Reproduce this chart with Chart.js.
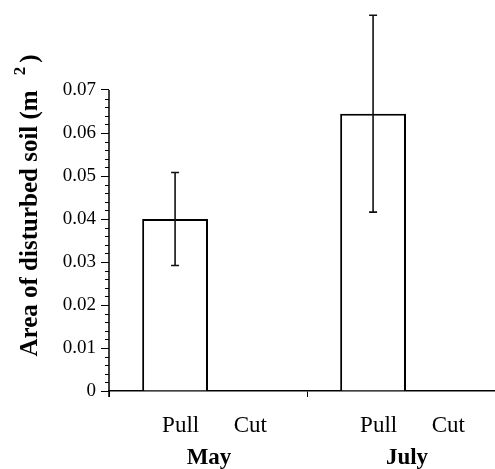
<!DOCTYPE html>
<html>
<head>
<meta charset="utf-8">
<script src="https://cdn.jsdelivr.net/npm/chart.js@4.4.1/dist/chart.umd.min.js"></script>
<style>
  html, body { margin: 0; padding: 0; background: #fff; overflow: hidden; }
  #wrap { width: 505px; height: 469px; position: relative; }
</style>
</head>
<body>
<div id="wrap"><canvas id="c"></canvas></div>
<script>
// ---- data ----
const months = ['May', 'July'];
const treatments = ['Pull', 'Cut'];
const pullMeans = [0.0400, 0.0645];
const pullErrors = [0.0108, 0.0229];
const cutMeans = [0, 0];
const cutErrors = [0, 0];
const yTickValues = [0, 0.01, 0.02, 0.03, 0.04, 0.05, 0.06, 0.07];
const yAxisTitle = 'Area of disturbed soil (m';
const yAxisTitleSup = '2';
const yAxisTitleEnd = ')';

const serif = "'Liberation Serif', 'Times New Roman', serif";

const errorBarPlugin = {
  id: 'errorBars',
  afterDatasetsDraw(chart) {
    const y = chart.scales.y;
    const ctx = chart.ctx;
    const sets = [[0, pullMeans, pullErrors], [1, cutMeans, cutErrors]];
    ctx.save();
    ctx.strokeStyle = '#111';
    ctx.lineWidth = 1.6;
    sets.forEach(([di, means, errs]) => {
      const meta = chart.getDatasetMeta(di);
      meta.data.forEach((el, i) => {
        if (!errs[i]) return;
        const yt = y.getPixelForValue(means[i] + errs[i]);
        const yb = y.getPixelForValue(means[i] - errs[i]);
        ctx.beginPath();
        ctx.moveTo(el.x, yt); ctx.lineTo(el.x, yb);
        ctx.moveTo(el.x - 4, yt); ctx.lineTo(el.x + 4, yt);
        ctx.moveTo(el.x - 4, yb); ctx.lineTo(el.x + 4, yb);
        ctx.stroke();
      });
    });
    ctx.restore();
  }
};

const axisPlugin = {
  id: 'axisDecor',
  afterDraw(chart) {
    const ctx = chart.ctx;
    const y = chart.scales.y;
    const area = chart.chartArea;
    const top = y.getPixelForValue(yTickValues[yTickValues.length - 1]);
    const bot = y.getPixelForValue(0);
    ctx.save();
    ctx.strokeStyle = '#000';
    ctx.lineWidth = 1.5;
    ctx.beginPath();
    ctx.moveTo(area.left, top);
    ctx.lineTo(area.left, bot + 6);
    ctx.stroke();
    // minor ticks
    ctx.lineWidth = 1;
    ctx.beginPath();
    const maxV = yTickValues[yTickValues.length - 1];
    for (let k = 1; k * 0.002 < maxV + 1e-9; k++) {
      if (k % 5 === 0) continue;
      const py = Math.round(y.getPixelForValue(k * 0.002)) + 0.5;
      ctx.moveTo(area.left - 4, py);
      ctx.lineTo(area.left, py);
    }
    ctx.stroke();

    // rotated y-axis title with superscript
    ctx.fillStyle = '#000';
    ctx.textBaseline = 'alphabetic';
    ctx.textAlign = 'left';
    const mainFont = "bold 25px " + serif;
    const supFont = "bold 17px " + serif;
    ctx.font = mainFont;
    const w1 = ctx.measureText(yAxisTitle).width;
    ctx.font = supFont;
    const w2 = ctx.measureText(yAxisTitleSup).width;
    ctx.font = mainFont;
    const w3 = ctx.measureText(yAxisTitleEnd).width;
    const gap1 = 15, gap2 = 4;
    const total = w1 + gap1 + w2 + gap2 + w3;
    const cy = (area.top + area.bottom) / 2 + 8;
    ctx.translate(37, cy);
    ctx.rotate(-Math.PI / 2);
    let x = -total / 2;
    ctx.font = mainFont;
    ctx.fillText(yAxisTitle, x, 0);
    x += w1 + gap1;
    ctx.font = supFont;
    ctx.fillText(yAxisTitleSup, x, -12);
    x += w2 + gap2;
    ctx.font = mainFont;
    ctx.fillText(yAxisTitleEnd, x, 0);
    ctx.restore();
  }
};

new Chart(document.getElementById('c'), {
  type: 'bar',
  data: {
    labels: months,
    datasets: [
      {
        label: treatments[0],
        data: pullMeans,
        backgroundColor: '#ffffff',
        borderColor: '#000000',
        borderWidth: 2,
        barPercentage: 1,
        categoryPercentage: 0.665
      },
      {
        label: treatments[1],
        data: cutMeans,
        backgroundColor: '#ffffff',
        borderColor: '#000000',
        borderWidth: 0,
        barPercentage: 1,
        categoryPercentage: 0.665
      }
    ]
  },
  options: {
    responsive: true,
    maintainAspectRatio: false,
    animation: false,
    layout: { padding: { top: 4, right: 0, bottom: 0, left: 0 } },
    plugins: { legend: { display: false }, tooltip: { enabled: false } },
    scales: {
      x: {
        type: 'category',
        position: 'bottom',
        offset: true,
        afterFit: (s) => { s.height = 46; s.paddingLeft = 0; s.paddingRight = 0; },
        grid: { display: true, drawOnChartArea: false, drawTicks: true, tickLength: 6, offset: true, color: '#000', lineWidth: 1 },
        border: { display: true, color: '#000', width: 1.5 },
        ticks: {
          color: '#000',
          font: { family: serif, size: 23 },
          padding: 15,
          labelOffset: 6.5,
          maxRotation: 0,
          autoSkip: false,
          callback: () => treatments[0] + '      ' + treatments[1]
        }
      },
      x2: {
        type: 'category',
        position: 'bottom',
        offset: true,
        afterFit: (s) => { s.height = 32; s.paddingLeft = 0; s.paddingRight = 0; },
        grid: { display: false, drawTicks: false },
        border: { display: false },
        ticks: {
          color: '#000',
          font: { family: serif, size: 23, weight: 'bold' },
          padding: 7,
          labelOffset: 1,
          maxRotation: 0,
          autoSkip: false
        }
      },
      y: {
        min: 0,
        max: 0.09,
        afterFit: (s) => { s.width = 109; s.paddingTop = 0; s.paddingBottom = 0; },
        afterBuildTicks: (s) => { s.ticks = yTickValues.map(v => ({ value: v })); },
        grid: { display: true, drawOnChartArea: false, drawTicks: true, tickLength: 8, color: '#000', lineWidth: 1 },
        border: { display: false },
        ticks: {
          color: '#000',
          font: { family: serif, size: 19 },
          padding: 5,
          callback: (v) => v === 0 ? '0' : v.toFixed(2)
        }
      }
    }
  },
  plugins: [errorBarPlugin, axisPlugin]
});
</script>
</body>
</html>
